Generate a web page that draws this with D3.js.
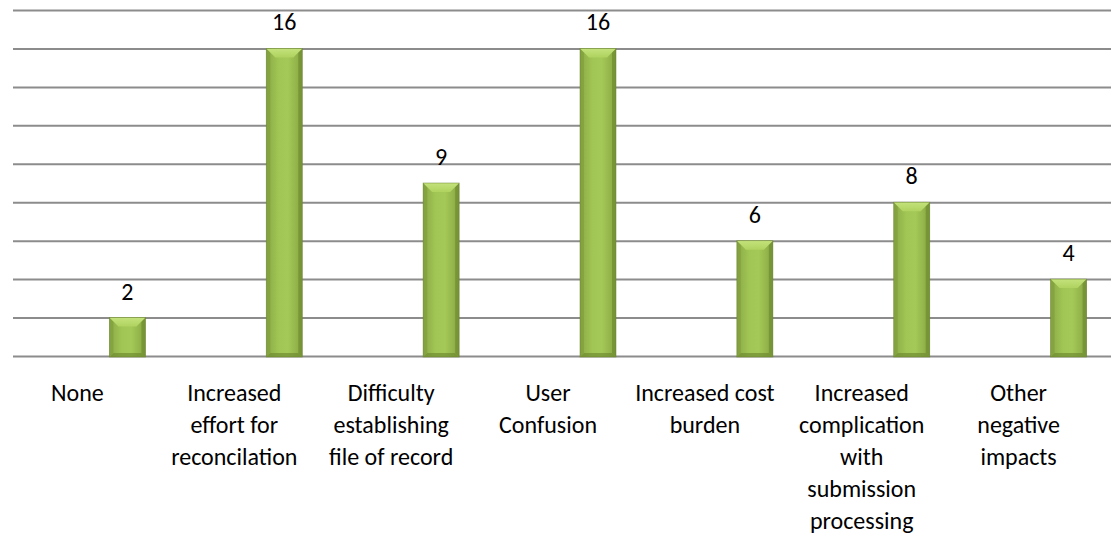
<!DOCTYPE html>
<html>
<head>
<meta charset="utf-8">
<script src="https://cdn.jsdelivr.net/npm/d3@7"></script>
<style>
    body { margin: 0; background: #fff; }
    text { font-family: Carlito, Lato, "Noto Sans", sans-serif; fill: #000; }
</style>
</head>
<body>
<div id="chart"></div>
<script>
// data
const categories = [
    'None',
    'Increased\neffort for\nreconcilation',
    'Difficulty\nestablishing\nfile of record',
    'User\nConfusion',
    'Increased cost\nburden',
    'Increased\ncomplication\nwith\nsubmission\nprocessing',
    'Other\nnegative\nimpacts'
];
const counts = [2, 16, 9, 16, 6, 8, 4];
const gridTicks = [0, 2, 4, 6, 8, 10, 12, 14, 16, 18];

const draw = () => {
    const dimensions = {
        width: 1114,
        height: 537,
        margin: { top: 10, left: 13, right: 3, bottom: 181 }
    };
    dimensions.containerWidth = dimensions.width - dimensions.margin.left - dimensions.margin.right;
    dimensions.containerHeight = dimensions.height - dimensions.margin.top - dimensions.margin.bottom;

    const svg = d3.select('#chart')
        .append('svg')
        .attr('width', dimensions.width)
        .attr('height', dimensions.height);

    const defs = svg.append('defs');
    const body = defs.append('linearGradient').attr('id', 'barBody')
        .attr('x1', 0).attr('x2', 1).attr('y1', 0).attr('y2', 0);
    body.append('stop').attr('offset', '0%').attr('stop-color', '#89a945');
    body.append('stop').attr('offset', '35%').attr('stop-color', '#a2c655');
    body.append('stop').attr('offset', '60%').attr('stop-color', '#a5c958');
    body.append('stop').attr('offset', '100%').attr('stop-color', '#86a641');
    const top = defs.append('linearGradient').attr('id', 'barTop')
        .attr('x1', 0).attr('x2', 0).attr('y1', 0).attr('y2', 1);
    top.append('stop').attr('offset', '0%').attr('stop-color', '#c4e27c');
    top.append('stop').attr('offset', '100%').attr('stop-color', '#afd25f');

    const container = svg.append('g')
        .attr('transform', `translate(${dimensions.margin.left}, ${dimensions.margin.top})`);

    // scales
    const xScale = d3.scaleBand()
        .domain(categories)
        .range([0, dimensions.containerWidth]);

    const yScale = d3.scaleLinear()
        .domain([0, 18])
        .range([dimensions.containerHeight, 0]);

    // gridlines
    const yAxis = d3.axisLeft(yScale)
        .tickValues(gridTicks)
        .tickSize(-dimensions.containerWidth)
        .tickFormat('');

    const yAxisGroup = container.append('g').call(yAxis);
    yAxisGroup.select('.domain').remove();
    yAxisGroup.selectAll('.tick line')
        .attr('stroke', '#8c8c8c')
        .attr('stroke-width', 2);

    // bars (shifted right for the 3D depth)
    const depth = 36;
    const barWidth = 36;
    const bevel = 9;
    const barX = d => xScale(d) + xScale.bandwidth() / 2 + depth - barWidth / 2;

    const bars = container.selectAll('g.bar')
        .data(categories.map((c, i) => ({ category: c, value: counts[i] })))
        .join('g')
        .classed('bar', true)
        .attr('transform', d => `translate(${barX(d.category)}, 0)`);

    const y0 = yScale(0) + 1;

    bars.append('rect')
        .attr('x', 0)
        .attr('y', d => yScale(d.value))
        .attr('width', barWidth)
        .attr('height', d => y0 - yScale(d.value))
        .attr('fill', 'url(#barBody)');

    // side and bottom bevels
    bars.append('path')
        .attr('d', d => {
            const t = yScale(d.value);
            return `M0,${t} L4,${t + 4} L4,${y0 - 4} L0,${y0} Z`;
        })
        .attr('fill', '#7f9d3c')
        .attr('opacity', 0.6);
    bars.append('path')
        .attr('d', d => {
            const t = yScale(d.value);
            return `M${barWidth},${t} L${barWidth - 4},${t + 4} L${barWidth - 4},${y0 - 4} L${barWidth},${y0} Z`;
        })
        .attr('fill', '#6f8c31')
        .attr('opacity', 0.7);
    bars.append('path')
        .attr('d', `M0,${y0} L4,${y0 - 4} L${barWidth - 4},${y0 - 4} L${barWidth},${y0} Z`)
        .attr('fill', '#6f8c31')
        .attr('opacity', 0.7);

    // top bevel
    bars.append('path')
        .attr('d', d => {
            const t = yScale(d.value);
            return `M0,${t} L${barWidth},${t} L${barWidth - bevel},${t + bevel} L${bevel},${t + bevel} Z`;
        })
        .attr('fill', 'url(#barTop)');

    bars.append('rect')
        .attr('x', 0)
        .attr('y', d => yScale(d.value))
        .attr('width', barWidth)
        .attr('height', d => y0 - yScale(d.value))
        .attr('fill', 'none')
        .attr('stroke', '#66812c')
        .attr('stroke-width', 0.8)
        .attr('stroke-opacity', 0.6);

    // data labels
    bars.append('text')
        .attr('x', barWidth / 2)
        .attr('y', d => yScale(d.value) - 18)
        .attr('text-anchor', 'middle')
        .style('font-size', '24px')
        .text(d => d.value);

    // category labels
    const labels = container.append('g')
        .selectAll('text')
        .data(categories)
        .join('text')
        .attr('x', d => xScale(d) + xScale.bandwidth() / 2 - 14)
        .attr('y', dimensions.containerHeight + 45)
        .attr('text-anchor', 'middle')
        .style('font-size', '24px');

    labels.selectAll('tspan')
        .data(d => d.split('\n'))
        .join('tspan')
        .attr('x', function () { return d3.select(this.parentNode).attr('x'); })
        .attr('dy', (d, i) => i === 0 ? 0 : 32)
        .text(d => d);
};

draw();
</script>
</body>
</html>
